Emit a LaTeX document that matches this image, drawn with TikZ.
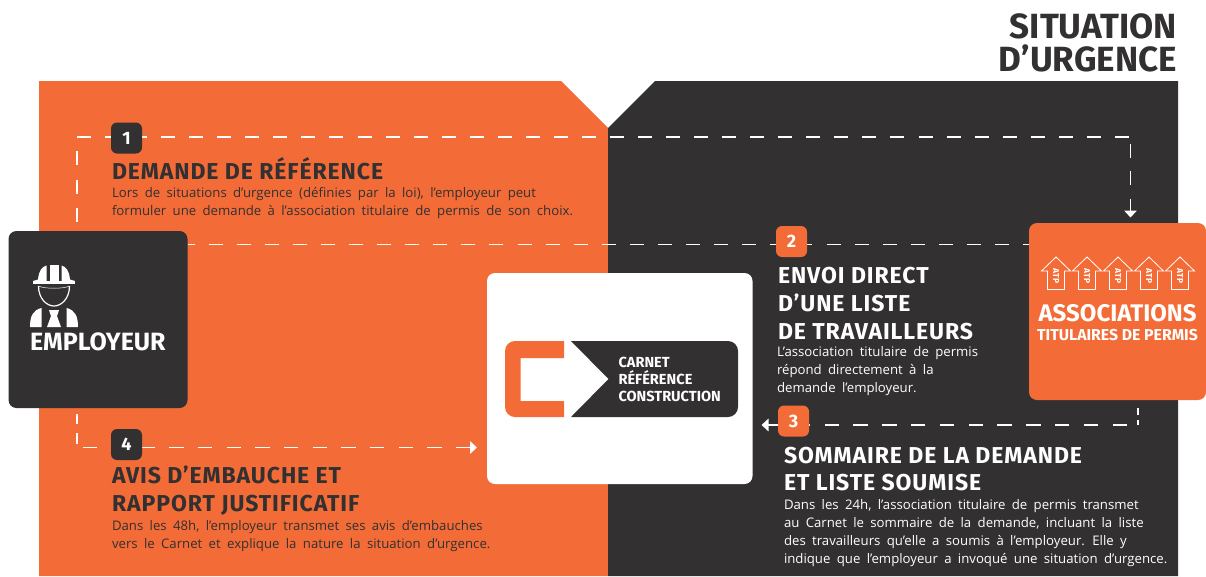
\documentclass[tikz,border=0pt]{standalone}
\usepackage{fontspec}
\setmainfont{Fira Sans}
\newfontfamily\headfont[LetterSpace=4]{Fira Sans}
\newfontfamily\bodyfont[WordSpace=1.85]{Open Sans}
\usetikzlibrary{arrows.meta}
\definecolor{ccqorange}{HTML}{F36C37}
\definecolor{ccqdark}{HTML}{323031}
\pgfdeclarelayer{panel}
\pgfdeclarelayer{link}
\pgfsetlayers{panel,link,main}
\tikzset{
  box/.style={rounded corners=8pt,inner sep=0pt,outer sep=0pt,anchor=north west},
  badge/.style={rounded corners=6pt,minimum width=31pt,minimum height=31pt,inner sep=0pt,outer sep=0pt,text=white,font=\fontsize{18}{18}\selectfont\bfseries},
  head/.style={anchor=base west,inner sep=0pt,outer sep=0pt,align=left,font=\fontsize{23}{27.7}\headfont\bfseries},
  body/.style={anchor=base west,inner sep=0pt,outer sep=0pt,align=left,font=\fontsize{13.2}{18}\bodyfont},
  label/.style={inner sep=0pt,outer sep=0pt,text=white},
  linkline/.style={white,line width=1.5pt,dash pattern=on 14pt off 14pt},
  linktip/.style={-{Triangle[length=7pt,width=12.5pt]}},
}
\begin{document}
\begin{tikzpicture}[x=1pt,y=-1pt]
\useasboundingbox (0,0) rectangle (1206,576);

% Panels
\begin{pgfonlayer}{panel}
\fill[ccqorange] (39,81) -- (561,81) -- (608,128) -- (608,576) -- (39,576) -- cycle;
\fill[ccqdark] (655,81) -- (1178,81) -- (1178,576) -- (608,576) -- (608,128) -- cycle;
\end{pgfonlayer}

% Title
\node[anchor=base east,inner sep=0pt,align=right,text=ccqdark,font=\fontsize{35}{33}\selectfont\bfseries] (title) at (1177,71) {SITUATION\\D’URGENCE};

% Boxes
\node[box,fill=ccqdark,minimum width=179pt,minimum height=177pt] (employeur) at (8.5,231) {};
\node[box,fill=ccqorange,minimum width=177pt,minimum height=177pt] (associations) at (1029,223) {};
\node[box,fill=white,minimum width=265.5pt,minimum height=211pt] (carnet) at (487,273) {};

% Employer icon
\fill[white] (33,281) -- (38,279.5) .. controls (39,270) and (42,267) .. (46.5,265.5) -- (46.5,281) -- cycle;
\fill[white] (49.5,281) -- (49.5,264.5) -- (58.5,264.5) -- (58.5,281) -- cycle;
\fill[white] (75,281) -- (70,279.5) .. controls (69,270) and (66,267) .. (61.5,265.5) -- (61.5,281) -- cycle;
\fill[white] (33,281) rectangle (75,284);
\draw[white,line width=1.2pt] (38.5,286) .. controls (38.5,299) and (47,306) .. (54,306) .. controls (61,306) and (69.5,299) .. (69.5,286);
\draw[white,line width=.5pt] (38.5,286) .. controls (44,289) and (64,289) .. (69.5,286);
\fill[white] (30,327) .. controls (30,316) and (33,310) .. (41.5,308) -- (41.5,327) -- cycle;
\fill[white] (78,327) .. controls (78,316) and (75,310) .. (66.5,308) -- (66.5,327) -- cycle;
\fill[white] (47,327) -- (51,316) -- (49,310) -- (59,310) -- (57,316) -- (61,327) -- cycle;
\node[label,anchor=base west,font=\fontsize{25}{25}\selectfont\bfseries] (employeurlabel) at (30,350) {EMPLOYEUR};

% Association arrows
\foreach \i/\xc in {1/1056,2/1087,3/1118,4/1149,5/1180}{
  \draw[white,line width=.8pt] (\xc,257) -- (\xc+14.5,271) -- (\xc+8.5,271) -- (\xc+8.5,289.5) -- (\xc-8.5,289.5) -- (\xc-8.5,271) -- (\xc-14.5,271) -- cycle;
  \node[label,rotate=-90,font=\fontsize{8.5}{8.5}\selectfont\bfseries] (atp\i) at (\xc,276) {ATP};
}
\node[label,anchor=base,font=\fontsize{24}{24}\selectfont\bfseries] (associationslabel) at (1117.5,321.5) {ASSOCIATIONS};
\node[label,anchor=base,font=\fontsize{15.8}{15.8}\selectfont\bfseries] (titulaireslabel) at (1117.5,340.5) {TITULAIRES DE PERMIS};

% Logo
\fill[ccqorange] (564,341) [rounded corners=10pt] -- (505,341) -- (505,417) [sharp corners] -- (564,417) -- (564,401) -- (520.5,401) -- (520.5,358) -- (564,358) -- cycle;
\fill[ccqdark] (571,341) [rounded corners=10pt] -- (738,341) -- (738,417) [sharp corners] -- (571,417) -- (608.5,379) -- cycle;
\node[label,anchor=base west,align=left,font=\fontsize{14.6}{17}\selectfont\bfseries] (logolabel) at (618.5,401.5) {CARNET\\RÉFÉRENCE\\CONSTRUCTION};

% Badges
\node[badge,fill=ccqdark] (one) at (126.5,138) {1};
\node[badge,fill=ccqorange] (two) at (791.5,241.5) {2};
\node[badge,fill=ccqorange] (three) at (793.5,421) {3};
\node[badge,fill=ccqdark] (four) at (126.5,444.5) {4};

% Connectors
\coordinate (cornerone) at (77,137);
\coordinate (cornertwo) at (1130.5,137);
\coordinate (rowtwo) at (791.5,244.5);
\coordinate (cornerthree) at (1138,425);
\coordinate (cornerfour) at (77,447.5);
\begin{pgfonlayer}{link}
\draw[linkline,dash pattern=on 14pt off 14.5pt,dash phase=19.5pt] (employeur.north -| cornerone) -- (cornerone);
\draw[linkline,dash pattern=on 14pt off 14.05pt] (cornerone) -- (cornertwo);
\draw[linkline,linktip,dash pattern=on 14pt off 13.5pt,dash phase=21pt,shorten >=5.5pt] (cornertwo) -- (associations.north -| cornertwo);
\draw[linkline,dash pattern=on 14pt off 14.09pt,dash phase=7pt] (employeur.east |- rowtwo) -- (associations.west |- rowtwo);
\draw[linkline,dash pattern=on 0pt off 8pt on 7pt off 5pt on 5pt off 1pt] (associations.south -| cornerthree) -- (cornerthree);
\draw[linkline,linktip,dash pattern=on 14.5pt off 14.3pt,dash phase=17.8pt,shorten >=9pt] (cornerthree) -- (carnet.east |- cornerthree);
\draw[linkline,dash pattern=on 0pt off 6pt on 10pt off 9pt on 11pt off 5pt] (employeur.south -| cornerfour) -- (cornerfour);
\draw[linkline,linktip,dash pattern=on 14.4pt off 14.3pt,dash phase=22.7pt,shorten >=10pt] (cornerfour) -- (carnet.west |- cornerfour);
\end{pgfonlayer}

% Texts
\node[head,text=ccqdark] (headone) at (112,179.5) {DEMANDE DE RÉFÉRENCE};
\node[body,text=ccqdark] (bodyone) at (112,215.5) {Lors de situations d’urgence (définies par la loi), l’employeur peut\\formuler une demande à l’association titulaire de permis de son choix.};
\node[head,text=white] (headtwo) at (778,339) {ENVOI DIRECT\\D’UNE LISTE\\DE TRAVAILLEURS};
\node[body,text=white] (bodytwo) at (777,392.5) {L’association titulaire de permis\\répond directement à la\\demande l’employeur.};
\node[head,text=white] (headthree) at (784,490.7) {SOMMAIRE DE LA DEMANDE\\ET LISTE SOUMISE};
\node[body,text=white] (bodythree) at (784,563) {Dans les 24h, l’association titulaire de permis transmet\\au Carnet le sommaire de la demande, incluant la liste\\des travailleurs qu’elle a soumis à l’employeur. Elle y\\indique que l’employeur a invoqué une situation d’urgence.};
\node[head,text=ccqdark] (headfour) at (112,511) {AVIS D’EMBAUCHE ET\\RAPPORT JUSTIFICATIF};
\node[body,text=ccqdark] (bodyfour) at (112,548) {Dans les 48h, l’employeur transmet ses avis d’embauches\\vers le Carnet et explique la nature la situation d’urgence.};
\end{tikzpicture}
\end{document}
